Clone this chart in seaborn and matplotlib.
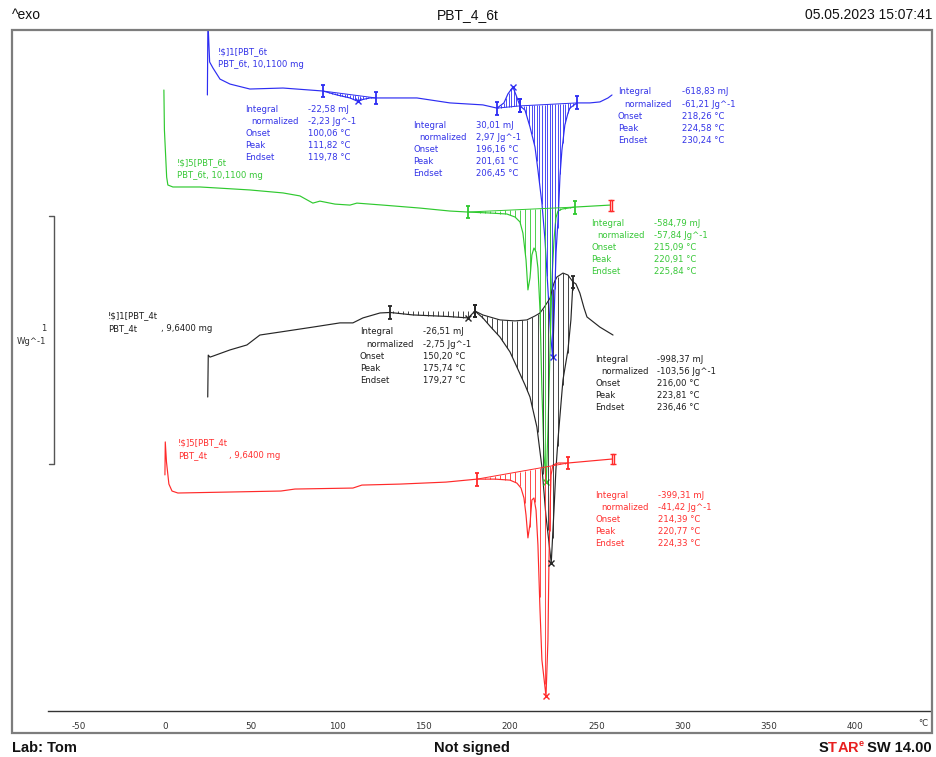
import numpy as np
import pandas as pd
import matplotlib
matplotlib.use("Agg")
import matplotlib.pyplot as plt
from matplotlib.patches import Rectangle
from matplotlib.lines import Line2D
import seaborn as sns

sns.set_style("white")
plt.rcParams["font.family"] = ["DejaVu Sans"]

# ---------------- data: temperature (°C) and heat flow (W/g, stacked offsets) ----------------
blue_T = [24.6, 24.9, 25.9, 27.8, 31.9, 37.7, 49.2, 68.4, 91.5, 99.7, 107.2, 111.8, 114.7, 118.8,
          122.2, 146.0, 165.1, 184.2, 192.4, 196.4, 198.7, 201.6, 203.4, 205.7, 208.6, 211.5,
          214.4, 216.1, 218.4, 220.2, 221.9, 223.4, 224.6, 225.6, 226.6, 227.9, 228.9, 230.0,
          231.7, 233.5, 234.6, 238.7, 246.2, 252.0, 256.7, 259.0]
blue_hf = [2.484, 2.786, 2.617, 2.593, 2.548, 2.528, 2.508, 2.512, 2.500, 2.484, 2.472, 2.458,
           2.466, 2.472, 2.472, 2.472, 2.452, 2.444, 2.431, 2.452, 2.488, 2.516, 2.484, 2.440,
           2.423, 2.355, 2.274, 2.181, 2.048, 1.899, 1.700, 1.520, 1.427, 1.620, 1.850, 2.000,
           2.161, 2.262, 2.363, 2.411, 2.431, 2.452, 2.452, 2.456, 2.472, 2.484]

green_T = [-0.6, -0.3, 1.0, 1.7, 4.6, 20.3, 30.1, 49.2, 68.4, 78.2, 85.7, 89.8, 98.5, 107.2,
           111.2, 126.3, 147.7, 165.1, 175.5, 188.3, 198.1, 202.8, 205.7, 207.4, 209.2, 210.3,
           211.5, 212.6, 213.8, 215.0, 216.1, 217.3, 218.4, 219.6, 220.91, 221.9, 223.1, 224.2,
           225.4, 226.5, 227.7, 230.0, 237.5, 257.8]
green_hf = [2.504, 2.343, 2.153, 2.121, 2.113, 2.113, 2.109, 2.101, 2.089, 2.077, 2.048, 2.056,
            2.044, 2.040, 2.048, 2.040, 2.028, 2.016, 2.012, 2.008, 2.004, 1.992, 1.972, 1.927,
            1.819, 1.698, 1.746, 1.839, 1.867, 1.851, 1.786, 1.617, 1.294, 1.032, 0.923, 1.133,
            1.456, 1.738, 1.899, 1.988, 2.016, 2.024, 2.032, 2.040]

black_T = [24.8, 25.1, 26.1, 27.8, 37.7, 47.5, 55.0, 66.6, 85.7, 101.4, 108.9, 114.7, 124.6,
           130.4, 143.7, 163.4, 175.74, 179.6, 184.2, 188.3, 194.1, 199.9, 203.9, 208.6, 211.5,
           215.5, 218.4, 220.7, 223.81, 225.4, 226.5, 227.7, 230.6, 233.5, 235.2, 236.4, 238.1,
           240.4, 242.8, 244.5, 252.0, 259.6]
black_hf = [1.266, 1.435, 1.427, 1.431, 1.456, 1.476, 1.516, 1.528, 1.548, 1.565, 1.565, 1.585,
            1.605, 1.607, 1.597, 1.591, 1.585, 1.613, 1.585, 1.552, 1.508, 1.448, 1.387, 1.315,
            1.266, 1.145, 0.984, 0.790, 0.597, 0.810, 0.972, 1.093, 1.335, 1.456, 1.577, 1.730,
            1.722, 1.685, 1.625, 1.589, 1.548, 1.516]
# spline baseline under the black melting peak
black_base_T = [179.6, 184.2, 194.1, 202.8, 209.7, 214.4, 217.3, 220.2, 223.1, 225.4, 227.1,
                230.6, 233.5, 236.4]
black_base_hf = [1.613, 1.597, 1.577, 1.573, 1.577, 1.593, 1.605, 1.633, 1.665, 1.726, 1.750,
                 1.766, 1.758, 1.730]

red_T = [0.0, 0.2, 0.9, 2.3, 4.1, 7.5, 37.7, 67.2, 75.3, 108.9, 114.1, 136.2, 162.8, 180.8,
         191.2, 199.9, 203.9, 206.3, 208.0, 209.2, 210.3, 211.5, 212.6, 213.8, 215.0, 216.1,
         217.3, 218.4, 220.77, 221.9, 222.5, 223.1, 223.7, 224.8, 227.7, 233.5, 246.2, 259.0]
red_hf = [0.952, 1.085, 1.004, 0.915, 0.887, 0.879, 0.883, 0.887, 0.895, 0.899, 0.911, 0.915,
          0.923, 0.935, 0.935, 0.931, 0.919, 0.899, 0.859, 0.790, 0.698, 0.754, 0.851, 0.859,
          0.810, 0.669, 0.407, 0.206, 0.060, 0.286, 0.609, 0.810, 0.952, 0.992, 1.000, 1.000,
          1.008, 1.016]

# evaluation results (one entry per integration)
eval_curve = ["blue", "blue", "blue", "green", "black", "black", "red"]
integral_mJ = ["-22,58", "30,01", "-618,83", "-584,79", "-26,51", "-998,37", "-399,31"]
normalized = ["-2,23", "2,97", "-61,21", "-57,84", "-2,75", "-103,56", "-41,42"]
onset = ["100,06", "196,16", "218,26", "215,09", "150,20", "216,00", "214,39"]
peak = [111.82, 201.61, 224.58, 220.91, 175.74, 223.81, 220.77]
endset = ["119,78", "206,45", "230,24", "225,84", "179,27", "236,46", "224,33"]
# integration limits (°C)
limit_lo = [91.5, 192.4, 205.7, 175.5, 130.4, 179.6, 180.8]
limit_hi = [122.2, 205.7, 238.7, 237.5, 179.6, 236.4, 233.5]

x_ticks = [-50, 0, 50, 100, 150, 200, 250, 300, 350, 400]

# ---------------- figure ----------------
W, H = 936, 757
fig = plt.figure(figsize=(W / 100, H / 100), dpi=100)
ax = fig.add_axes([12 / W, 1 - 733 / H, 920 / W, 703 / H])
ax.set_xlim(-88.6, 444.4)
ax.set_ylim(-0.0887, 2.746)

COL = {"blue": "#2d2df2", "green": "#2fc92f", "black": "#262626", "red": "#ff2a2a"}
TXT = {"blue": "#3434e8", "green": "#38c838", "black": "#1e1e1e", "red": "#ff3030"}
curves = {"blue": (blue_T, blue_hf), "green": (green_T, green_hf),
          "black": (black_T, black_hf), "red": (red_T, red_hf)}


def trace(T, hf, color, lw=0.85):
    df = pd.DataFrame({"T": T, "hf": hf})
    sns.lineplot(data=df, x="T", y="hf", sort=False, estimator=None, color=color,
                 lw=lw, ax=ax, legend=False)


for name, (T, hf) in curves.items():
    trace(T, hf, COL[name])
trace(black_base_T, black_base_hf, COL["black"], lw=0.8)


def hatch(name, lo, hi, step, base=None):
    T, hf = curves[name]
    xs = np.arange(lo + step / 2, hi, step)
    yc = np.interp(xs, T, hf)
    if base is None:
        y0, y1 = np.interp([lo, hi], T, hf)
        yb = y0 + (y1 - y0) * (xs - lo) / (hi - lo)
        ax.plot([lo, hi], [y0, y1], color=COL[name], lw=0.7)
    else:
        yb = np.interp(xs, base[0], base[1])
    ax.vlines(xs, yb, yc, color=COL[name], lw=0.6)


def bracket(name, t):
    T, hf = curves[name]
    y = np.interp(t, T, hf)
    ax.errorbar([t], [y], yerr=0.026, fmt="none", ecolor=COL[name], elinewidth=1.3,
                capsize=1.6, capthick=1.3)


for i, name in enumerate(eval_curve):
    lo, hi = limit_lo[i], limit_hi[i]
    small = (hi - lo) < 40
    base = (black_base_T, black_base_hf) if (name == "black" and not small) else None
    hatch(name, lo, hi, 1.5 if small else 2.9, base)
    bracket(name, lo)
    bracket(name, hi)
    T, hf = curves[name]
    ax.plot([peak[i]], [np.interp(peak[i], T, hf)], marker="x", ms=4.5, mew=1.0,
            color=COL[name], ls="none")

# end-of-curve marks
for name in ["green", "red"]:
    T, hf = curves[name]
    ax.errorbar([T[-1], T[-1] + 1.2], [hf[-1]] * 2, yerr=0.022, fmt="none",
                ecolor="#ff2a2a", elinewidth=1.0, capsize=1.4, capthick=1.0)

# scale bar: 1 W/g
ax.plot([-67.2, -64.3, -64.3, -67.2], [1.996, 1.996, 0.996, 0.996], color="#555555", lw=1.0)

# temperature axis
for s in ["left", "right", "top"]:
    ax.spines[s].set_visible(False)
ax.spines["bottom"].set_position(("data", 0))
ax.spines["bottom"].set_bounds(-67.8, 443.2)
ax.spines["bottom"].set_color("#333333")
ax.spines["bottom"].set_linewidth(1.0)
ax.set_xticks(x_ticks)
ax.set_xticklabels([str(v) for v in x_ticks])
ax.set_xticks(np.arange(-60, 441, 10), minor=True)
ax.tick_params(axis="x", which="major", direction="out", length=5, width=0.9,
               colors="#333333", labelsize=6.3, pad=3)
ax.tick_params(axis="x", which="minor", direction="out", length=3.5, width=0.9, colors="#333333")
ax.set_yticks([])
ax.set_xlabel("")
ax.set_ylabel("")
ax.patch.set_alpha(0)

# outer frame
fig.patches.append(Rectangle((12 / W, 1 - 733 / H), 920 / W, 703 / H, transform=fig.transFigure,
                             fill=False, ec="#7d7d7d", lw=1.6))


def fx(px):
    return px / W


def fy(py):
    return 1 - py / H


small_font = dict(fontsize=6.1, va="center")
fig.text(fx(918), fy(723), "°C", ha="left", color="#333333", **small_font)
fig.text(fx(46), fy(328), "1", ha="right", color="#333333", **small_font)
fig.text(fx(46), fy(341), "Wg^-1", ha="right", color="#333333", **small_font)

# curve captions
captions = [("blue", 218, 52, "!$]1[PBT_6t", "PBT_6t, 10,1100 mg", None),
            ("green", 177, 163, "!$]5[PBT_6t", "PBT_6t, 10,1100 mg", None),
            ("black", 108, 316, "!$]1[PBT_4t", "PBT_4t", 161),
            ("red", 178, 443, "!$]5[PBT_4t", "PBT_4t", 229)]
for name, px, py, l1, l2, mx in captions:
    fig.text(fx(px), fy(py), l1, color=TXT[name], ha="left", **small_font)
    fig.text(fx(px), fy(py + 12.3), l2, color=TXT[name], ha="left", **small_font)
    if mx is not None:
        fig.text(fx(mx), fy(py + 12.3), ", 9,6400 mg", color=TXT[name], ha="left", **small_font)

# evaluation tables
table_pos = [(245, 109, 308), (413, 125, 476), (618, 92, 682), (591, 223, 654),
             (360, 332, 423), (595, 359, 657), (595, 495, 658)]
for i, name in enumerate(eval_curve):
    px, py, vx = table_pos[i]
    keys = ["Integral", "normalized", "Onset", "Peak", "Endset"]
    vals = [integral_mJ[i] + " mJ", normalized[i] + " Jg^-1", onset[i] + " °C",
            f"{peak[i]:.2f}".replace(".", ",") + " °C", endset[i] + " °C"]
    for k, (key, val) in enumerate(zip(keys, vals)):
        y = py + 12.15 * k
        fig.text(fx(px + (6 if k == 1 else 0)), fy(y), key, color=TXT[name], ha="left", **small_font)
        fig.text(fx(vx), fy(y), val, color=TXT[name], ha="left", **small_font)

# header
head = dict(fontsize=10, family=["Liberation Sans"], va="center", color="#111111")
fig.text(fx(12), fy(15), "^exo", ha="left", **head)
fig.text(fx(468), fy(15), "PBT_4_6t", ha="center", **head)
fig.text(fx(932), fy(15), "05.05.2023 15:07:41", ha="right", **head)

# footer
foot = dict(fontsize=10.5, family=["Liberation Sans"], weight="bold", va="center")
fig.text(fx(12), fy(748), "Lab: Tom", ha="left", color="#111111", **foot)
fig.text(fx(472), fy(748), "Not signed", ha="center", color="#111111", **foot)
renderer = fig.canvas.get_renderer()
t = fig.text(fx(932), fy(748), " SW 14.00", ha="right", color="#111111", **foot)
x_right = t.get_window_extent(renderer).x0
t = fig.text(x_right / W, fy(744), "e", ha="right", color="#e82020", fontsize=6.5,
             family=["Liberation Sans"], weight="bold", va="center")
x_right = t.get_window_extent(renderer).x0
for ch, c in [("R", "#e82020"), ("A", "#e82020"), ("T", "#e82020"), ("S", "#111111")]:
    t = fig.text(x_right / W, fy(748), ch, ha="right", color=c, **foot)
    x_right = t.get_window_extent(renderer).x0

fig.savefig("out.png", dpi=100, facecolor="white")
